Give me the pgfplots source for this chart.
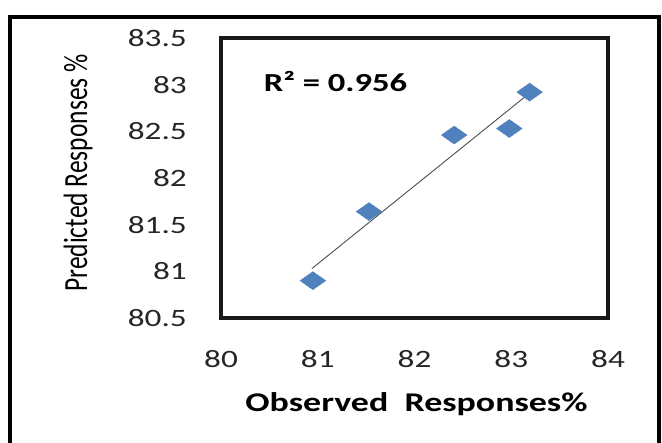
\documentclass[border=0pt]{standalone}
\usepackage{pgfplots}
\pgfplotsset{compat=1.18}
\usepackage{fontspec}
\setmainfont{Carlito}
\usepackage{graphicx}
\definecolor{mk}{HTML}{4F81BD}
\begin{document}
\begin{tikzpicture}[x=1pt,y=1pt]
\useasboundingbox (0,0) rectangle (662,443);
\draw[line width=4.5pt] (10,-5) -- (10,426) -- (659,426) -- (659,-5);
\begin{axis}[
  at={(221pt,125pt)}, anchor=south west,
  width=387pt, height=280pt, scale only axis,
  xmin=80, xmax=84, ymin=80.5, ymax=83.5,
  xtick={80,81,82,83,84},
  ytick={80.5,81,81.5,82,82.5,83,83.5},
  /pgf/number format/assume math mode=true,
  xticklabel={\scalebox{1.33}[1]{\pgfmathprintnumber{\tick}}},
  yticklabel={\scalebox{1.33}[1]{\pgfmathprintnumber{\tick}}},
  tick label style={font=\fontsize{25}{30}\selectfont, text=black!85, inner sep=0pt},
  xticklabel style={anchor=north, yshift=-32pt},
  yticklabel style={anchor=east, xshift=-34pt},
  major tick length=0pt,
  axis line style={line width=3.6pt, draw=black!90},
  xlabel={\scalebox{1.33}[1]{\bfseries Observed\ \ Responses\%}},
  xlabel style={font=\fontsize{27}{32}\selectfont, at={(rel axis cs:0.505,0)}, anchor=center, yshift=-86pt, inner sep=0pt},
  clip=false,
]
\addplot[draw=black!70, line width=0.9pt] coordinates {(80.94,81.03) (83.19,82.91)};
\addplot[only marks, mark=diamond*, mark size=9pt, mark options={xscale=1.9, fill=mk, draw=mk}] coordinates {
  (80.95,80.90) (81.53,81.64) (82.41,82.46) (82.98,82.53) (83.19,82.92)
};
\node[font=\fontsize{26}{30}\selectfont\bfseries, inner sep=0pt] at (rel axis cs:0.296,0.846) {\scalebox{1.33}[1]{R² = 0.956}};
\end{axis}
\node[rotate=90, font=\fontsize{26}{30}\selectfont, inner sep=0pt, text=black] at (78,270) {\scalebox{0.98}[1.3]{Predicted Responses \%}};
\end{tikzpicture}
\end{document}
